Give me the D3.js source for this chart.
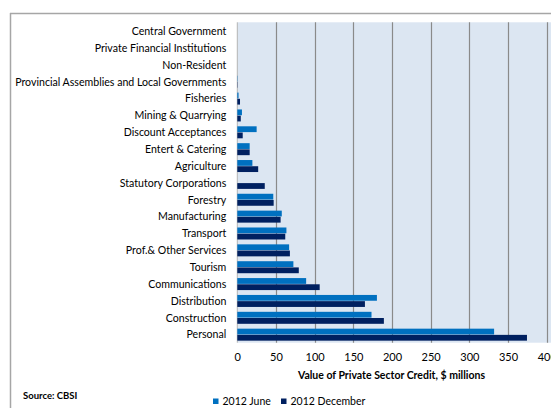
<!DOCTYPE html>
<html>
<head>
<meta charset="utf-8">
<script src="https://cdn.jsdelivr.net/npm/d3@7"></script>
<style>
  html, body { margin: 0; padding: 0; background: #fff; }
  svg { display: block; font-family: Lato, "Open Sans", sans-serif; }
</style>
</head>
<body>
<svg id="chart" width="551" height="408"></svg>
<script>
// Sectors, listed top to bottom
const categories = [
  "Central Government",
  "Private Financial Institutions",
  "Non-Resident",
  "Provincial Assemblies and Local Governments",
  "Fisheries",
  "Mining & Quarrying",
  "Discount Acceptances",
  "Entert & Catering",
  "Agriculture",
  "Statutory Corporations",
  "Forestry",
  "Manufacturing",
  "Transport",
  "Prof.& Other Services",
  "Tourism",
  "Communications",
  "Distribution",
  "Construction",
  "Personal"
];

// Private sector credit, $ millions
const june2012 = [0, 0, 0, 0.4, 1.6, 6, 25, 16, 19.5, 0, 46.5, 57.5, 63.5, 67, 72.5, 89, 180.5, 173.5, 332];
const december2012 = [0, 0, 0, 0.4, 3.5, 4.5, 7, 16, 27, 35.5, 47, 56, 62, 68, 79.5, 106.5, 165, 189.5, 374.5];

const seriesNames = ["2012 June", "2012 December"];
const seriesColors = ["#0070c0", "#002060"];
const xTicks = [0, 50, 100, 150, 200, 250, 300, 350, 400];

const svg = d3.select("#chart");

// Outer frame (top and left edges visible)
svg.append("line").attr("x1", 10).attr("x2", 551).attr("y1", 13.5).attr("y2", 13.5)
  .attr("stroke", "#a6a6a6").attr("stroke-width", 1.5);
svg.append("line").attr("x1", 10.5).attr("x2", 10.5).attr("y1", 13).attr("y2", 408)
  .attr("stroke", "#a6a6a6").attr("stroke-width", 1.5);

const plot = { left: 237.3, right: 546.7, top: 22.3, bottom: 342.7 };

const x = d3.scaleLinear().domain([0, 400]).range([plot.left, plot.right]);
const y = d3.scaleBand().domain(categories).range([plot.top, plot.bottom]).padding(0);

// Plot area background
svg.append("rect")
  .attr("x", plot.left).attr("y", plot.top)
  .attr("width", 551 - plot.left).attr("height", plot.bottom - plot.top)
  .attr("fill", "#dce6f2");

// Vertical gridlines
svg.append("g").selectAll("line")
  .data(xTicks.filter(d => d > 0))
  .join("line")
  .attr("x1", d => Math.round(x(d)) + 0.5).attr("x2", d => Math.round(x(d)) + 0.5)
  .attr("y1", plot.top).attr("y2", plot.bottom)
  .attr("stroke", "#8a8a8a").attr("stroke-width", 1.2);

// Category axis line
svg.append("line")
  .attr("x1", x(0)).attr("x2", x(0)).attr("y1", plot.top).attr("y2", plot.bottom)
  .attr("stroke", "#b4b4b4").attr("stroke-width", 1);

// Bars: two series per sector
const barH = 5.8;
const series = [june2012, december2012];
series.forEach((vals, si) => {
  svg.append("g").selectAll("rect")
    .data(categories.map((c, i) => ({ c, v: vals[i] })))
    .join("rect")
    .attr("x", x(0))
    .attr("y", d => y(d.c) + y.bandwidth() / 2 - barH + si * barH + (si ? 0.6 : 0.2))
    .attr("width", d => x(d.v) - x(0))
    .attr("height", barH)
    .attr("fill", seriesColors[si]);
});

// Category labels
const yAxis = svg.append("g")
  .attr("transform", `translate(${plot.left - 11},0.8)`)
  .call(d3.axisLeft(y).tickSize(0).tickPadding(0));
yAxis.select(".domain").remove();
yAxis.selectAll("text")
  .attr("font-family", "Lato, sans-serif")
  .attr("font-size", 10.6)
  .attr("fill", "#000");

// Value axis labels
const xAxis = svg.append("g")
  .attr("transform", `translate(0,${plot.bottom})`)
  .call(d3.axisBottom(x).tickValues(xTicks).tickSize(0).tickPadding(11));
xAxis.select(".domain").remove();
xAxis.selectAll("text")
  .attr("font-family", "Lato, sans-serif")
  .attr("font-size", 11)
  .attr("fill", "#000");

// Axis title
svg.append("text")
  .attr("x", 391.5).attr("y", 379)
  .attr("text-anchor", "middle")
  .attr("font-size", 10.5).attr("font-weight", "bold")
  .attr("fill", "#000")
  .text("Value of Private Sector Credit, $ millions");

// Source note
svg.append("text")
  .attr("x", 23).attr("y", 399)
  .attr("font-size", 9.5).attr("font-weight", "bold")
  .attr("fill", "#000")
  .text("Source: CBSI");

// Legend
const legendX = [213, 281];
seriesNames.forEach((name, i) => {
  const g = svg.append("g").attr("transform", `translate(${legendX[i]},398.5)`);
  g.append("rect").attr("width", 5.5).attr("height", 5.5).attr("fill", seriesColors[i]);
  g.append("text").attr("x", 9.5).attr("y", 6.5)
    .attr("font-size", 10.5).attr("fill", "#000").text(name);
});
</script>
</body>
</html>
